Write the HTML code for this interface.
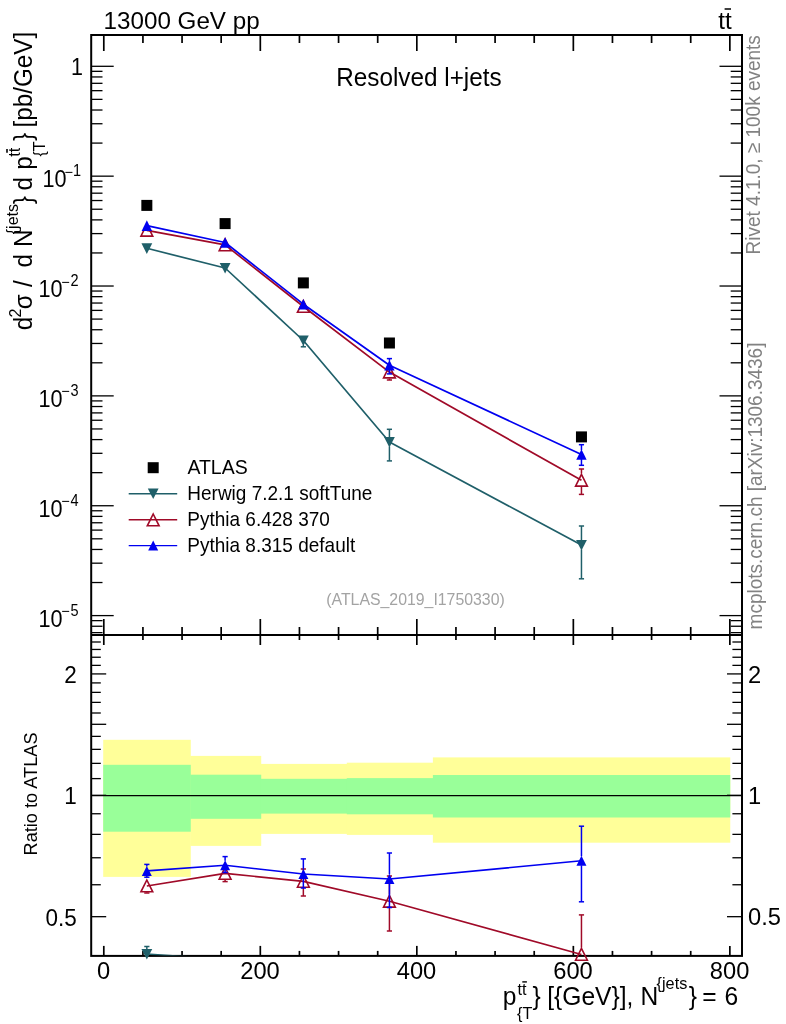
<!DOCTYPE html>
<html><head><meta charset="utf-8"><title>plot</title>
<style>
html,body{margin:0;padding:0;background:#fff;}
svg{display:block;will-change:transform;}
text{font-family:"Liberation Sans",sans-serif;}
</style></head>
<body>
<svg width="786" height="1024" viewBox="0 0 786 1024">
<rect x="0" y="0" width="786" height="1024" fill="#fff"/>
<rect x="103.20" y="739.8" width="87.58" height="137.10" fill="#ffff99"/>
<rect x="190.28" y="755.9" width="70.93" height="90.00" fill="#ffff99"/>
<rect x="260.71" y="763.9" width="86.58" height="70.00" fill="#ffff99"/>
<rect x="346.79" y="762.7" width="86.58" height="72.20" fill="#ffff99"/>
<rect x="432.88" y="757.4" width="297.37" height="85.30" fill="#ffff99"/>
<rect x="103.20" y="764.8" width="87.58" height="66.90" fill="#99ff99"/>
<rect x="190.28" y="774.7" width="70.93" height="44.10" fill="#99ff99"/>
<rect x="260.71" y="778.8" width="86.58" height="34.80" fill="#99ff99"/>
<rect x="346.79" y="778.1" width="86.58" height="36.20" fill="#99ff99"/>
<rect x="432.88" y="775.0" width="297.37" height="42.50" fill="#99ff99"/>
<line x1="91.20" y1="795.60" x2="742.00" y2="795.60" stroke="#000" stroke-width="1.4" />
<line x1="103.80" y1="35.00" x2="103.80" y2="51.00" stroke="#000" stroke-width="1.7" />
<line x1="103.80" y1="635.00" x2="103.80" y2="619.00" stroke="#000" stroke-width="1.7" />
<line x1="103.80" y1="635.00" x2="103.80" y2="645.00" stroke="#000" stroke-width="1.7" />
<line x1="103.80" y1="955.90" x2="103.80" y2="945.90" stroke="#000" stroke-width="1.7" />
<line x1="142.93" y1="35.00" x2="142.93" y2="43.00" stroke="#000" stroke-width="1.7" />
<line x1="142.93" y1="635.00" x2="142.93" y2="627.00" stroke="#000" stroke-width="1.7" />
<line x1="142.93" y1="635.00" x2="142.93" y2="640.00" stroke="#000" stroke-width="1.7" />
<line x1="142.93" y1="955.90" x2="142.93" y2="950.90" stroke="#000" stroke-width="1.7" />
<line x1="182.06" y1="35.00" x2="182.06" y2="43.00" stroke="#000" stroke-width="1.7" />
<line x1="182.06" y1="635.00" x2="182.06" y2="627.00" stroke="#000" stroke-width="1.7" />
<line x1="182.06" y1="635.00" x2="182.06" y2="640.00" stroke="#000" stroke-width="1.7" />
<line x1="182.06" y1="955.90" x2="182.06" y2="950.90" stroke="#000" stroke-width="1.7" />
<line x1="221.18" y1="35.00" x2="221.18" y2="43.00" stroke="#000" stroke-width="1.7" />
<line x1="221.18" y1="635.00" x2="221.18" y2="627.00" stroke="#000" stroke-width="1.7" />
<line x1="221.18" y1="635.00" x2="221.18" y2="640.00" stroke="#000" stroke-width="1.7" />
<line x1="221.18" y1="955.90" x2="221.18" y2="950.90" stroke="#000" stroke-width="1.7" />
<line x1="260.31" y1="35.00" x2="260.31" y2="51.00" stroke="#000" stroke-width="1.7" />
<line x1="260.31" y1="635.00" x2="260.31" y2="619.00" stroke="#000" stroke-width="1.7" />
<line x1="260.31" y1="635.00" x2="260.31" y2="645.00" stroke="#000" stroke-width="1.7" />
<line x1="260.31" y1="955.90" x2="260.31" y2="945.90" stroke="#000" stroke-width="1.7" />
<line x1="299.44" y1="35.00" x2="299.44" y2="43.00" stroke="#000" stroke-width="1.7" />
<line x1="299.44" y1="635.00" x2="299.44" y2="627.00" stroke="#000" stroke-width="1.7" />
<line x1="299.44" y1="635.00" x2="299.44" y2="640.00" stroke="#000" stroke-width="1.7" />
<line x1="299.44" y1="955.90" x2="299.44" y2="950.90" stroke="#000" stroke-width="1.7" />
<line x1="338.57" y1="35.00" x2="338.57" y2="43.00" stroke="#000" stroke-width="1.7" />
<line x1="338.57" y1="635.00" x2="338.57" y2="627.00" stroke="#000" stroke-width="1.7" />
<line x1="338.57" y1="635.00" x2="338.57" y2="640.00" stroke="#000" stroke-width="1.7" />
<line x1="338.57" y1="955.90" x2="338.57" y2="950.90" stroke="#000" stroke-width="1.7" />
<line x1="377.70" y1="35.00" x2="377.70" y2="43.00" stroke="#000" stroke-width="1.7" />
<line x1="377.70" y1="635.00" x2="377.70" y2="627.00" stroke="#000" stroke-width="1.7" />
<line x1="377.70" y1="635.00" x2="377.70" y2="640.00" stroke="#000" stroke-width="1.7" />
<line x1="377.70" y1="955.90" x2="377.70" y2="950.90" stroke="#000" stroke-width="1.7" />
<line x1="416.82" y1="35.00" x2="416.82" y2="51.00" stroke="#000" stroke-width="1.7" />
<line x1="416.82" y1="635.00" x2="416.82" y2="619.00" stroke="#000" stroke-width="1.7" />
<line x1="416.82" y1="635.00" x2="416.82" y2="645.00" stroke="#000" stroke-width="1.7" />
<line x1="416.82" y1="955.90" x2="416.82" y2="945.90" stroke="#000" stroke-width="1.7" />
<line x1="455.95" y1="35.00" x2="455.95" y2="43.00" stroke="#000" stroke-width="1.7" />
<line x1="455.95" y1="635.00" x2="455.95" y2="627.00" stroke="#000" stroke-width="1.7" />
<line x1="455.95" y1="635.00" x2="455.95" y2="640.00" stroke="#000" stroke-width="1.7" />
<line x1="455.95" y1="955.90" x2="455.95" y2="950.90" stroke="#000" stroke-width="1.7" />
<line x1="495.08" y1="35.00" x2="495.08" y2="43.00" stroke="#000" stroke-width="1.7" />
<line x1="495.08" y1="635.00" x2="495.08" y2="627.00" stroke="#000" stroke-width="1.7" />
<line x1="495.08" y1="635.00" x2="495.08" y2="640.00" stroke="#000" stroke-width="1.7" />
<line x1="495.08" y1="955.90" x2="495.08" y2="950.90" stroke="#000" stroke-width="1.7" />
<line x1="534.21" y1="35.00" x2="534.21" y2="43.00" stroke="#000" stroke-width="1.7" />
<line x1="534.21" y1="635.00" x2="534.21" y2="627.00" stroke="#000" stroke-width="1.7" />
<line x1="534.21" y1="635.00" x2="534.21" y2="640.00" stroke="#000" stroke-width="1.7" />
<line x1="534.21" y1="955.90" x2="534.21" y2="950.90" stroke="#000" stroke-width="1.7" />
<line x1="573.34" y1="35.00" x2="573.34" y2="51.00" stroke="#000" stroke-width="1.7" />
<line x1="573.34" y1="635.00" x2="573.34" y2="619.00" stroke="#000" stroke-width="1.7" />
<line x1="573.34" y1="635.00" x2="573.34" y2="645.00" stroke="#000" stroke-width="1.7" />
<line x1="573.34" y1="955.90" x2="573.34" y2="945.90" stroke="#000" stroke-width="1.7" />
<line x1="612.46" y1="35.00" x2="612.46" y2="43.00" stroke="#000" stroke-width="1.7" />
<line x1="612.46" y1="635.00" x2="612.46" y2="627.00" stroke="#000" stroke-width="1.7" />
<line x1="612.46" y1="635.00" x2="612.46" y2="640.00" stroke="#000" stroke-width="1.7" />
<line x1="612.46" y1="955.90" x2="612.46" y2="950.90" stroke="#000" stroke-width="1.7" />
<line x1="651.59" y1="35.00" x2="651.59" y2="43.00" stroke="#000" stroke-width="1.7" />
<line x1="651.59" y1="635.00" x2="651.59" y2="627.00" stroke="#000" stroke-width="1.7" />
<line x1="651.59" y1="635.00" x2="651.59" y2="640.00" stroke="#000" stroke-width="1.7" />
<line x1="651.59" y1="955.90" x2="651.59" y2="950.90" stroke="#000" stroke-width="1.7" />
<line x1="690.72" y1="35.00" x2="690.72" y2="43.00" stroke="#000" stroke-width="1.7" />
<line x1="690.72" y1="635.00" x2="690.72" y2="627.00" stroke="#000" stroke-width="1.7" />
<line x1="690.72" y1="635.00" x2="690.72" y2="640.00" stroke="#000" stroke-width="1.7" />
<line x1="690.72" y1="955.90" x2="690.72" y2="950.90" stroke="#000" stroke-width="1.7" />
<line x1="729.85" y1="35.00" x2="729.85" y2="51.00" stroke="#000" stroke-width="1.7" />
<line x1="729.85" y1="635.00" x2="729.85" y2="619.00" stroke="#000" stroke-width="1.7" />
<line x1="729.85" y1="635.00" x2="729.85" y2="645.00" stroke="#000" stroke-width="1.7" />
<line x1="729.85" y1="955.90" x2="729.85" y2="945.90" stroke="#000" stroke-width="1.7" />
<line x1="91.20" y1="66.30" x2="113.70" y2="66.30" stroke="#000" stroke-width="1.3" />
<line x1="742.00" y1="66.30" x2="719.50" y2="66.30" stroke="#000" stroke-width="1.3" />
<line x1="91.20" y1="176.16" x2="113.70" y2="176.16" stroke="#000" stroke-width="1.3" />
<line x1="742.00" y1="176.16" x2="719.50" y2="176.16" stroke="#000" stroke-width="1.3" />
<line x1="91.20" y1="143.09" x2="102.50" y2="143.09" stroke="#000" stroke-width="1.3" />
<line x1="742.00" y1="143.09" x2="730.70" y2="143.09" stroke="#000" stroke-width="1.3" />
<line x1="91.20" y1="123.74" x2="102.50" y2="123.74" stroke="#000" stroke-width="1.3" />
<line x1="742.00" y1="123.74" x2="730.70" y2="123.74" stroke="#000" stroke-width="1.3" />
<line x1="91.20" y1="110.02" x2="102.50" y2="110.02" stroke="#000" stroke-width="1.3" />
<line x1="742.00" y1="110.02" x2="730.70" y2="110.02" stroke="#000" stroke-width="1.3" />
<line x1="91.20" y1="99.37" x2="102.50" y2="99.37" stroke="#000" stroke-width="1.3" />
<line x1="742.00" y1="99.37" x2="730.70" y2="99.37" stroke="#000" stroke-width="1.3" />
<line x1="91.20" y1="90.67" x2="102.50" y2="90.67" stroke="#000" stroke-width="1.3" />
<line x1="742.00" y1="90.67" x2="730.70" y2="90.67" stroke="#000" stroke-width="1.3" />
<line x1="91.20" y1="83.32" x2="102.50" y2="83.32" stroke="#000" stroke-width="1.3" />
<line x1="742.00" y1="83.32" x2="730.70" y2="83.32" stroke="#000" stroke-width="1.3" />
<line x1="91.20" y1="76.95" x2="102.50" y2="76.95" stroke="#000" stroke-width="1.3" />
<line x1="742.00" y1="76.95" x2="730.70" y2="76.95" stroke="#000" stroke-width="1.3" />
<line x1="91.20" y1="71.33" x2="102.50" y2="71.33" stroke="#000" stroke-width="1.3" />
<line x1="742.00" y1="71.33" x2="730.70" y2="71.33" stroke="#000" stroke-width="1.3" />
<line x1="91.20" y1="286.02" x2="113.70" y2="286.02" stroke="#000" stroke-width="1.3" />
<line x1="742.00" y1="286.02" x2="719.50" y2="286.02" stroke="#000" stroke-width="1.3" />
<line x1="91.20" y1="252.95" x2="102.50" y2="252.95" stroke="#000" stroke-width="1.3" />
<line x1="742.00" y1="252.95" x2="730.70" y2="252.95" stroke="#000" stroke-width="1.3" />
<line x1="91.20" y1="233.60" x2="102.50" y2="233.60" stroke="#000" stroke-width="1.3" />
<line x1="742.00" y1="233.60" x2="730.70" y2="233.60" stroke="#000" stroke-width="1.3" />
<line x1="91.20" y1="219.88" x2="102.50" y2="219.88" stroke="#000" stroke-width="1.3" />
<line x1="742.00" y1="219.88" x2="730.70" y2="219.88" stroke="#000" stroke-width="1.3" />
<line x1="91.20" y1="209.23" x2="102.50" y2="209.23" stroke="#000" stroke-width="1.3" />
<line x1="742.00" y1="209.23" x2="730.70" y2="209.23" stroke="#000" stroke-width="1.3" />
<line x1="91.20" y1="200.53" x2="102.50" y2="200.53" stroke="#000" stroke-width="1.3" />
<line x1="742.00" y1="200.53" x2="730.70" y2="200.53" stroke="#000" stroke-width="1.3" />
<line x1="91.20" y1="193.18" x2="102.50" y2="193.18" stroke="#000" stroke-width="1.3" />
<line x1="742.00" y1="193.18" x2="730.70" y2="193.18" stroke="#000" stroke-width="1.3" />
<line x1="91.20" y1="186.81" x2="102.50" y2="186.81" stroke="#000" stroke-width="1.3" />
<line x1="742.00" y1="186.81" x2="730.70" y2="186.81" stroke="#000" stroke-width="1.3" />
<line x1="91.20" y1="181.19" x2="102.50" y2="181.19" stroke="#000" stroke-width="1.3" />
<line x1="742.00" y1="181.19" x2="730.70" y2="181.19" stroke="#000" stroke-width="1.3" />
<line x1="91.20" y1="395.88" x2="113.70" y2="395.88" stroke="#000" stroke-width="1.3" />
<line x1="742.00" y1="395.88" x2="719.50" y2="395.88" stroke="#000" stroke-width="1.3" />
<line x1="91.20" y1="362.81" x2="102.50" y2="362.81" stroke="#000" stroke-width="1.3" />
<line x1="742.00" y1="362.81" x2="730.70" y2="362.81" stroke="#000" stroke-width="1.3" />
<line x1="91.20" y1="343.46" x2="102.50" y2="343.46" stroke="#000" stroke-width="1.3" />
<line x1="742.00" y1="343.46" x2="730.70" y2="343.46" stroke="#000" stroke-width="1.3" />
<line x1="91.20" y1="329.74" x2="102.50" y2="329.74" stroke="#000" stroke-width="1.3" />
<line x1="742.00" y1="329.74" x2="730.70" y2="329.74" stroke="#000" stroke-width="1.3" />
<line x1="91.20" y1="319.09" x2="102.50" y2="319.09" stroke="#000" stroke-width="1.3" />
<line x1="742.00" y1="319.09" x2="730.70" y2="319.09" stroke="#000" stroke-width="1.3" />
<line x1="91.20" y1="310.39" x2="102.50" y2="310.39" stroke="#000" stroke-width="1.3" />
<line x1="742.00" y1="310.39" x2="730.70" y2="310.39" stroke="#000" stroke-width="1.3" />
<line x1="91.20" y1="303.04" x2="102.50" y2="303.04" stroke="#000" stroke-width="1.3" />
<line x1="742.00" y1="303.04" x2="730.70" y2="303.04" stroke="#000" stroke-width="1.3" />
<line x1="91.20" y1="296.67" x2="102.50" y2="296.67" stroke="#000" stroke-width="1.3" />
<line x1="742.00" y1="296.67" x2="730.70" y2="296.67" stroke="#000" stroke-width="1.3" />
<line x1="91.20" y1="291.05" x2="102.50" y2="291.05" stroke="#000" stroke-width="1.3" />
<line x1="742.00" y1="291.05" x2="730.70" y2="291.05" stroke="#000" stroke-width="1.3" />
<line x1="91.20" y1="505.74" x2="113.70" y2="505.74" stroke="#000" stroke-width="1.3" />
<line x1="742.00" y1="505.74" x2="719.50" y2="505.74" stroke="#000" stroke-width="1.3" />
<line x1="91.20" y1="472.67" x2="102.50" y2="472.67" stroke="#000" stroke-width="1.3" />
<line x1="742.00" y1="472.67" x2="730.70" y2="472.67" stroke="#000" stroke-width="1.3" />
<line x1="91.20" y1="453.32" x2="102.50" y2="453.32" stroke="#000" stroke-width="1.3" />
<line x1="742.00" y1="453.32" x2="730.70" y2="453.32" stroke="#000" stroke-width="1.3" />
<line x1="91.20" y1="439.60" x2="102.50" y2="439.60" stroke="#000" stroke-width="1.3" />
<line x1="742.00" y1="439.60" x2="730.70" y2="439.60" stroke="#000" stroke-width="1.3" />
<line x1="91.20" y1="428.95" x2="102.50" y2="428.95" stroke="#000" stroke-width="1.3" />
<line x1="742.00" y1="428.95" x2="730.70" y2="428.95" stroke="#000" stroke-width="1.3" />
<line x1="91.20" y1="420.25" x2="102.50" y2="420.25" stroke="#000" stroke-width="1.3" />
<line x1="742.00" y1="420.25" x2="730.70" y2="420.25" stroke="#000" stroke-width="1.3" />
<line x1="91.20" y1="412.90" x2="102.50" y2="412.90" stroke="#000" stroke-width="1.3" />
<line x1="742.00" y1="412.90" x2="730.70" y2="412.90" stroke="#000" stroke-width="1.3" />
<line x1="91.20" y1="406.53" x2="102.50" y2="406.53" stroke="#000" stroke-width="1.3" />
<line x1="742.00" y1="406.53" x2="730.70" y2="406.53" stroke="#000" stroke-width="1.3" />
<line x1="91.20" y1="400.91" x2="102.50" y2="400.91" stroke="#000" stroke-width="1.3" />
<line x1="742.00" y1="400.91" x2="730.70" y2="400.91" stroke="#000" stroke-width="1.3" />
<line x1="91.20" y1="615.60" x2="113.70" y2="615.60" stroke="#000" stroke-width="1.3" />
<line x1="742.00" y1="615.60" x2="719.50" y2="615.60" stroke="#000" stroke-width="1.3" />
<line x1="91.20" y1="582.53" x2="102.50" y2="582.53" stroke="#000" stroke-width="1.3" />
<line x1="742.00" y1="582.53" x2="730.70" y2="582.53" stroke="#000" stroke-width="1.3" />
<line x1="91.20" y1="563.18" x2="102.50" y2="563.18" stroke="#000" stroke-width="1.3" />
<line x1="742.00" y1="563.18" x2="730.70" y2="563.18" stroke="#000" stroke-width="1.3" />
<line x1="91.20" y1="549.46" x2="102.50" y2="549.46" stroke="#000" stroke-width="1.3" />
<line x1="742.00" y1="549.46" x2="730.70" y2="549.46" stroke="#000" stroke-width="1.3" />
<line x1="91.20" y1="538.81" x2="102.50" y2="538.81" stroke="#000" stroke-width="1.3" />
<line x1="742.00" y1="538.81" x2="730.70" y2="538.81" stroke="#000" stroke-width="1.3" />
<line x1="91.20" y1="530.11" x2="102.50" y2="530.11" stroke="#000" stroke-width="1.3" />
<line x1="742.00" y1="530.11" x2="730.70" y2="530.11" stroke="#000" stroke-width="1.3" />
<line x1="91.20" y1="522.76" x2="102.50" y2="522.76" stroke="#000" stroke-width="1.3" />
<line x1="742.00" y1="522.76" x2="730.70" y2="522.76" stroke="#000" stroke-width="1.3" />
<line x1="91.20" y1="516.39" x2="102.50" y2="516.39" stroke="#000" stroke-width="1.3" />
<line x1="742.00" y1="516.39" x2="730.70" y2="516.39" stroke="#000" stroke-width="1.3" />
<line x1="91.20" y1="510.77" x2="102.50" y2="510.77" stroke="#000" stroke-width="1.3" />
<line x1="742.00" y1="510.77" x2="730.70" y2="510.77" stroke="#000" stroke-width="1.3" />
<line x1="91.20" y1="632.62" x2="102.50" y2="632.62" stroke="#000" stroke-width="1.3" />
<line x1="742.00" y1="632.62" x2="730.70" y2="632.62" stroke="#000" stroke-width="1.3" />
<line x1="91.20" y1="626.25" x2="102.50" y2="626.25" stroke="#000" stroke-width="1.3" />
<line x1="742.00" y1="626.25" x2="730.70" y2="626.25" stroke="#000" stroke-width="1.3" />
<line x1="91.20" y1="620.63" x2="102.50" y2="620.63" stroke="#000" stroke-width="1.3" />
<line x1="742.00" y1="620.63" x2="730.70" y2="620.63" stroke="#000" stroke-width="1.3" />
<line x1="91.20" y1="916.68" x2="106.20" y2="916.68" stroke="#000" stroke-width="1.3" />
<line x1="742.00" y1="916.68" x2="727.00" y2="916.68" stroke="#000" stroke-width="1.3" />
<line x1="91.20" y1="884.75" x2="100.80" y2="884.75" stroke="#000" stroke-width="1.3" />
<line x1="742.00" y1="884.75" x2="732.40" y2="884.75" stroke="#000" stroke-width="1.3" />
<line x1="91.20" y1="857.76" x2="100.80" y2="857.76" stroke="#000" stroke-width="1.3" />
<line x1="742.00" y1="857.76" x2="732.40" y2="857.76" stroke="#000" stroke-width="1.3" />
<line x1="91.20" y1="834.37" x2="100.80" y2="834.37" stroke="#000" stroke-width="1.3" />
<line x1="742.00" y1="834.37" x2="732.40" y2="834.37" stroke="#000" stroke-width="1.3" />
<line x1="91.20" y1="813.75" x2="100.80" y2="813.75" stroke="#000" stroke-width="1.3" />
<line x1="742.00" y1="813.75" x2="732.40" y2="813.75" stroke="#000" stroke-width="1.3" />
<line x1="91.20" y1="795.30" x2="106.20" y2="795.30" stroke="#000" stroke-width="1.3" />
<line x1="742.00" y1="795.30" x2="727.00" y2="795.30" stroke="#000" stroke-width="1.3" />
<line x1="91.20" y1="778.61" x2="100.80" y2="778.61" stroke="#000" stroke-width="1.3" />
<line x1="742.00" y1="778.61" x2="732.40" y2="778.61" stroke="#000" stroke-width="1.3" />
<line x1="91.20" y1="763.37" x2="100.80" y2="763.37" stroke="#000" stroke-width="1.3" />
<line x1="742.00" y1="763.37" x2="732.40" y2="763.37" stroke="#000" stroke-width="1.3" />
<line x1="91.20" y1="749.36" x2="100.80" y2="749.36" stroke="#000" stroke-width="1.3" />
<line x1="742.00" y1="749.36" x2="732.40" y2="749.36" stroke="#000" stroke-width="1.3" />
<line x1="91.20" y1="736.38" x2="100.80" y2="736.38" stroke="#000" stroke-width="1.3" />
<line x1="742.00" y1="736.38" x2="732.40" y2="736.38" stroke="#000" stroke-width="1.3" />
<line x1="91.20" y1="724.30" x2="106.20" y2="724.30" stroke="#000" stroke-width="1.3" />
<line x1="742.00" y1="724.30" x2="727.00" y2="724.30" stroke="#000" stroke-width="1.3" />
<line x1="91.20" y1="713.00" x2="100.80" y2="713.00" stroke="#000" stroke-width="1.3" />
<line x1="742.00" y1="713.00" x2="732.40" y2="713.00" stroke="#000" stroke-width="1.3" />
<line x1="91.20" y1="702.38" x2="100.80" y2="702.38" stroke="#000" stroke-width="1.3" />
<line x1="742.00" y1="702.38" x2="732.40" y2="702.38" stroke="#000" stroke-width="1.3" />
<line x1="91.20" y1="692.37" x2="100.80" y2="692.37" stroke="#000" stroke-width="1.3" />
<line x1="742.00" y1="692.37" x2="732.40" y2="692.37" stroke="#000" stroke-width="1.3" />
<line x1="91.20" y1="682.91" x2="100.80" y2="682.91" stroke="#000" stroke-width="1.3" />
<line x1="742.00" y1="682.91" x2="732.40" y2="682.91" stroke="#000" stroke-width="1.3" />
<line x1="91.20" y1="673.92" x2="106.20" y2="673.92" stroke="#000" stroke-width="1.3" />
<line x1="742.00" y1="673.92" x2="727.00" y2="673.92" stroke="#000" stroke-width="1.3" />
<line x1="91.20" y1="665.38" x2="100.80" y2="665.38" stroke="#000" stroke-width="1.3" />
<line x1="742.00" y1="665.38" x2="732.40" y2="665.38" stroke="#000" stroke-width="1.3" />
<line x1="91.20" y1="657.24" x2="100.80" y2="657.24" stroke="#000" stroke-width="1.3" />
<line x1="742.00" y1="657.24" x2="732.40" y2="657.24" stroke="#000" stroke-width="1.3" />
<line x1="91.20" y1="649.45" x2="100.80" y2="649.45" stroke="#000" stroke-width="1.3" />
<line x1="742.00" y1="649.45" x2="732.40" y2="649.45" stroke="#000" stroke-width="1.3" />
<line x1="91.20" y1="642.00" x2="100.80" y2="642.00" stroke="#000" stroke-width="1.3" />
<line x1="742.00" y1="642.00" x2="732.40" y2="642.00" stroke="#000" stroke-width="1.3" />
<rect x="91.2" y="35.0" width="650.8" height="920.9" fill="none" stroke="#000" stroke-width="2"/>
<line x1="91.20" y1="635.00" x2="742.00" y2="635.00" stroke="#000" stroke-width="2" />
<clipPath id="cm"><rect x="91.2" y="35.0" width="650.8" height="600.0"/></clipPath>
<clipPath id="cr"><rect x="91.2" y="635.0" width="650.8" height="320.5"/></clipPath>
<polyline points="146.84,248.30 225.10,268.00 303.35,340.50 389.43,442.00 581.46,545.00" fill="none" stroke="#1f5f69" stroke-width="1.7" stroke-linejoin="round" />
<line x1="303.35" y1="345.00" x2="303.35" y2="346.80" stroke="#1f5f69" stroke-width="1.5" />
<line x1="300.75" y1="346.80" x2="305.95" y2="346.80" stroke="#1f5f69" stroke-width="1.5" />
<line x1="389.43" y1="429.30" x2="389.43" y2="437.50" stroke="#1f5f69" stroke-width="1.5" />
<line x1="386.83" y1="429.30" x2="392.03" y2="429.30" stroke="#1f5f69" stroke-width="1.5" />
<line x1="389.43" y1="446.50" x2="389.43" y2="460.90" stroke="#1f5f69" stroke-width="1.5" />
<line x1="386.83" y1="460.90" x2="392.03" y2="460.90" stroke="#1f5f69" stroke-width="1.5" />
<line x1="581.46" y1="526.00" x2="581.46" y2="540.50" stroke="#1f5f69" stroke-width="1.5" />
<line x1="578.86" y1="526.00" x2="584.06" y2="526.00" stroke="#1f5f69" stroke-width="1.5" />
<line x1="581.46" y1="549.50" x2="581.46" y2="578.80" stroke="#1f5f69" stroke-width="1.5" />
<line x1="578.86" y1="578.80" x2="584.06" y2="578.80" stroke="#1f5f69" stroke-width="1.5" />
<polygon points="146.84,253.90 152.24,243.20 141.44,243.20" fill="#1f5f69"/>
<polygon points="225.10,273.60 230.50,262.90 219.70,262.90" fill="#1f5f69"/>
<polygon points="303.35,346.10 308.75,335.40 297.95,335.40" fill="#1f5f69"/>
<polygon points="389.43,447.60 394.83,436.90 384.03,436.90" fill="#1f5f69"/>
<polygon points="581.46,550.60 586.86,539.90 576.06,539.90" fill="#1f5f69"/>
<polyline points="146.84,230.30 225.10,244.90 303.35,306.50 389.43,372.10 581.46,480.30" fill="none" stroke="#a00a28" stroke-width="1.7" stroke-linejoin="round" />
<line x1="389.43" y1="378.50" x2="389.43" y2="380.00" stroke="#a00a28" stroke-width="1.5" />
<line x1="386.83" y1="380.00" x2="392.03" y2="380.00" stroke="#a00a28" stroke-width="1.5" />
<line x1="581.46" y1="469.00" x2="581.46" y2="473.50" stroke="#a00a28" stroke-width="1.5" />
<line x1="578.86" y1="469.00" x2="584.06" y2="469.00" stroke="#a00a28" stroke-width="1.5" />
<line x1="581.46" y1="486.70" x2="581.46" y2="494.40" stroke="#a00a28" stroke-width="1.5" />
<line x1="578.86" y1="494.40" x2="584.06" y2="494.40" stroke="#a00a28" stroke-width="1.5" />
<polygon points="146.84,224.30 152.74,236.10 140.94,236.10" fill="none" stroke="#a00a28" stroke-width="1.6" stroke-linejoin="miter" stroke-miterlimit="10"/>
<polygon points="225.10,238.90 231.00,250.70 219.20,250.70" fill="none" stroke="#a00a28" stroke-width="1.6" stroke-linejoin="miter" stroke-miterlimit="10"/>
<polygon points="303.35,300.50 309.25,312.30 297.45,312.30" fill="none" stroke="#a00a28" stroke-width="1.6" stroke-linejoin="miter" stroke-miterlimit="10"/>
<polygon points="389.43,366.10 395.33,377.90 383.53,377.90" fill="none" stroke="#a00a28" stroke-width="1.6" stroke-linejoin="miter" stroke-miterlimit="10"/>
<polygon points="581.46,474.30 587.36,486.10 575.56,486.10" fill="none" stroke="#a00a28" stroke-width="1.6" stroke-linejoin="miter" stroke-miterlimit="10"/>
<polyline points="146.84,225.60 225.10,242.50 303.35,304.20 389.43,365.30 581.46,454.50" fill="none" stroke="#0000f0" stroke-width="1.7" stroke-linejoin="round" />
<line x1="389.43" y1="358.60" x2="389.43" y2="360.80" stroke="#0000f0" stroke-width="1.5" />
<line x1="386.83" y1="358.60" x2="392.03" y2="358.60" stroke="#0000f0" stroke-width="1.5" />
<line x1="389.43" y1="369.80" x2="389.43" y2="373.90" stroke="#0000f0" stroke-width="1.5" />
<line x1="386.83" y1="373.90" x2="392.03" y2="373.90" stroke="#0000f0" stroke-width="1.5" />
<line x1="581.46" y1="444.70" x2="581.46" y2="450.00" stroke="#0000f0" stroke-width="1.5" />
<line x1="578.86" y1="444.70" x2="584.06" y2="444.70" stroke="#0000f0" stroke-width="1.5" />
<line x1="581.46" y1="459.00" x2="581.46" y2="465.30" stroke="#0000f0" stroke-width="1.5" />
<line x1="578.86" y1="465.30" x2="584.06" y2="465.30" stroke="#0000f0" stroke-width="1.5" />
<polygon points="146.84,220.30 152.04,230.90 141.64,230.90" fill="#0000f0"/>
<polygon points="225.10,237.20 230.30,247.80 219.90,247.80" fill="#0000f0"/>
<polygon points="303.35,298.90 308.55,309.50 298.15,309.50" fill="#0000f0"/>
<polygon points="389.43,360.00 394.63,370.60 384.23,370.60" fill="#0000f0"/>
<polygon points="581.46,449.20 586.66,459.80 576.26,459.80" fill="#0000f0"/>
<rect x="141.34" y="199.90" width="11.0" height="11.0" fill="#000"/>
<rect x="219.60" y="218.10" width="11.0" height="11.0" fill="#000"/>
<rect x="297.85" y="277.40" width="11.0" height="11.0" fill="#000"/>
<rect x="383.93" y="337.50" width="11.0" height="11.0" fill="#000"/>
<rect x="575.96" y="431.40" width="11.0" height="11.0" fill="#000"/>
<polyline points="146.84,954.00 225.10,959.40" fill="none" stroke="#1f5f69" stroke-width="1.6" stroke-linejoin="round" clip-path="url(#cr)"/>
<line x1="146.84" y1="946.50" x2="146.84" y2="949.50" stroke="#1f5f69" stroke-width="1.5" />
<line x1="144.24" y1="946.50" x2="149.44" y2="946.50" stroke="#1f5f69" stroke-width="1.5" />
<polygon points="146.84,959.60 152.24,948.90 141.44,948.90" fill="#1f5f69"/>
<polyline points="146.84,886.00 225.10,873.40 303.35,881.40 389.43,901.30 581.46,954.40" fill="none" stroke="#a00a28" stroke-width="1.6" stroke-linejoin="round" clip-path="url(#cr)"/>
<line x1="146.84" y1="892.40" x2="146.84" y2="893.00" stroke="#a00a28" stroke-width="1.5" />
<line x1="144.24" y1="893.00" x2="149.44" y2="893.00" stroke="#a00a28" stroke-width="1.5" />
<line x1="225.10" y1="879.80" x2="225.10" y2="881.60" stroke="#a00a28" stroke-width="1.5" />
<line x1="222.50" y1="881.60" x2="227.70" y2="881.60" stroke="#a00a28" stroke-width="1.5" />
<line x1="303.35" y1="869.00" x2="303.35" y2="874.60" stroke="#a00a28" stroke-width="1.5" />
<line x1="300.75" y1="869.00" x2="305.95" y2="869.00" stroke="#a00a28" stroke-width="1.5" />
<line x1="303.35" y1="887.80" x2="303.35" y2="896.00" stroke="#a00a28" stroke-width="1.5" />
<line x1="300.75" y1="896.00" x2="305.95" y2="896.00" stroke="#a00a28" stroke-width="1.5" />
<line x1="389.43" y1="876.00" x2="389.43" y2="894.50" stroke="#a00a28" stroke-width="1.5" />
<line x1="386.83" y1="876.00" x2="392.03" y2="876.00" stroke="#a00a28" stroke-width="1.5" />
<line x1="389.43" y1="907.70" x2="389.43" y2="931.00" stroke="#a00a28" stroke-width="1.5" />
<line x1="386.83" y1="931.00" x2="392.03" y2="931.00" stroke="#a00a28" stroke-width="1.5" />
<line x1="581.46" y1="914.90" x2="581.46" y2="947.60" stroke="#a00a28" stroke-width="1.5" />
<line x1="578.86" y1="914.90" x2="584.06" y2="914.90" stroke="#a00a28" stroke-width="1.5" />
<polygon points="146.84,880.00 152.74,891.80 140.94,891.80" fill="none" stroke="#a00a28" stroke-width="1.6" stroke-linejoin="miter" stroke-miterlimit="10"/>
<polygon points="225.10,867.40 231.00,879.20 219.20,879.20" fill="none" stroke="#a00a28" stroke-width="1.6" stroke-linejoin="miter" stroke-miterlimit="10"/>
<polygon points="303.35,875.40 309.25,887.20 297.45,887.20" fill="none" stroke="#a00a28" stroke-width="1.6" stroke-linejoin="miter" stroke-miterlimit="10"/>
<polygon points="389.43,895.30 395.33,907.10 383.53,907.10" fill="none" stroke="#a00a28" stroke-width="1.6" stroke-linejoin="miter" stroke-miterlimit="10"/>
<polygon points="581.46,948.40 587.36,960.20 575.56,960.20" fill="none" stroke="#a00a28" stroke-width="1.6" stroke-linejoin="miter" stroke-miterlimit="10"/>
<polyline points="146.84,870.90 225.10,865.30 303.35,874.00 389.43,879.00 581.46,860.80" fill="none" stroke="#0000f0" stroke-width="1.6" stroke-linejoin="round" />
<line x1="146.84" y1="864.40" x2="146.84" y2="866.40" stroke="#0000f0" stroke-width="1.5" />
<line x1="144.24" y1="864.40" x2="149.44" y2="864.40" stroke="#0000f0" stroke-width="1.5" />
<line x1="146.84" y1="875.40" x2="146.84" y2="877.20" stroke="#0000f0" stroke-width="1.5" />
<line x1="144.24" y1="877.20" x2="149.44" y2="877.20" stroke="#0000f0" stroke-width="1.5" />
<line x1="225.10" y1="856.60" x2="225.10" y2="860.80" stroke="#0000f0" stroke-width="1.5" />
<line x1="222.50" y1="856.60" x2="227.70" y2="856.60" stroke="#0000f0" stroke-width="1.5" />
<line x1="225.10" y1="869.80" x2="225.10" y2="872.50" stroke="#0000f0" stroke-width="1.5" />
<line x1="222.50" y1="872.50" x2="227.70" y2="872.50" stroke="#0000f0" stroke-width="1.5" />
<line x1="303.35" y1="858.90" x2="303.35" y2="869.50" stroke="#0000f0" stroke-width="1.5" />
<line x1="300.75" y1="858.90" x2="305.95" y2="858.90" stroke="#0000f0" stroke-width="1.5" />
<line x1="303.35" y1="878.50" x2="303.35" y2="888.00" stroke="#0000f0" stroke-width="1.5" />
<line x1="300.75" y1="888.00" x2="305.95" y2="888.00" stroke="#0000f0" stroke-width="1.5" />
<line x1="389.43" y1="853.00" x2="389.43" y2="874.50" stroke="#0000f0" stroke-width="1.5" />
<line x1="386.83" y1="853.00" x2="392.03" y2="853.00" stroke="#0000f0" stroke-width="1.5" />
<line x1="389.43" y1="883.50" x2="389.43" y2="907.50" stroke="#0000f0" stroke-width="1.5" />
<line x1="386.83" y1="907.50" x2="392.03" y2="907.50" stroke="#0000f0" stroke-width="1.5" />
<line x1="581.46" y1="826.20" x2="581.46" y2="856.30" stroke="#0000f0" stroke-width="1.5" />
<line x1="578.86" y1="826.20" x2="584.06" y2="826.20" stroke="#0000f0" stroke-width="1.5" />
<line x1="581.46" y1="865.30" x2="581.46" y2="901.80" stroke="#0000f0" stroke-width="1.5" />
<line x1="578.86" y1="901.80" x2="584.06" y2="901.80" stroke="#0000f0" stroke-width="1.5" />
<polygon points="146.84,865.90 151.84,875.90 141.84,875.90" fill="#0000f0"/>
<polygon points="225.10,860.30 230.10,870.30 220.10,870.30" fill="#0000f0"/>
<polygon points="303.35,869.00 308.35,879.00 298.35,879.00" fill="#0000f0"/>
<polygon points="389.43,874.00 394.43,884.00 384.43,884.00" fill="#0000f0"/>
<polygon points="581.46,855.80 586.46,865.80 576.46,865.80" fill="#0000f0"/>
<rect x="147.70" y="462.20" width="11.0" height="11.0" fill="#000"/>
<line x1="128.70" y1="493.80" x2="177.20" y2="493.80" stroke="#1f5f69" stroke-width="1.4" />
<polygon points="153.20,499.10 158.60,488.40 147.80,488.40" fill="#1f5f69"/>
<line x1="128.70" y1="519.70" x2="177.20" y2="519.70" stroke="#a00a28" stroke-width="1.4" />
<polygon points="153.20,514.00 159.10,525.80 147.30,525.80" fill="none" stroke="#a00a28" stroke-width="1.6" stroke-linejoin="miter" stroke-miterlimit="10"/>
<line x1="128.70" y1="545.60" x2="177.20" y2="545.60" stroke="#0000f0" stroke-width="1.4" />
<polygon points="153.20,540.60 158.20,550.60 148.20,550.60" fill="#0000f0"/>
<text transform="translate(187.40,473.70) scale(0.975,1)" font-size="20.0" fill="#000" text-anchor="start">ATLAS</text>
<text transform="translate(187.30,499.70) scale(0.95,1)" font-size="20.0" fill="#000" text-anchor="start">Herwig 7.2.1 softTune</text>
<text transform="translate(187.30,525.90) scale(0.95,1)" font-size="20.0" fill="#000" text-anchor="start">Pythia 6.428 370</text>
<text transform="translate(187.30,551.90) scale(0.95,1)" font-size="20.0" fill="#000" text-anchor="start">Pythia 8.315 default</text>
<text transform="translate(103.60,29.10) scale(0.98,1)" font-size="24.7" fill="#000" text-anchor="start">13000 GeV pp</text>
<text transform="translate(718.20,29.30) scale(0.98,1)" font-size="24.7" fill="#000" text-anchor="start">tt</text>
<line x1="724.60" y1="9.00" x2="731.00" y2="9.00" stroke="#000" stroke-width="1.5" />
<text transform="translate(336.20,85.70) scale(0.95,1)" font-size="25.6" fill="#000" text-anchor="start">Resolved l+jets</text>
<text transform="translate(415.50,604.50) scale(0.95,1)" font-size="16.7" fill="#a3a3a3" text-anchor="middle">(ATLAS_2019_I1750330)</text>
<text x="103.50" y="978.60" font-size="23.7" fill="#000" text-anchor="middle" >0</text>
<text x="260.01" y="978.60" font-size="23.7" fill="#000" text-anchor="middle" >200</text>
<text x="416.52" y="978.60" font-size="23.7" fill="#000" text-anchor="middle" >400</text>
<text x="573.04" y="978.60" font-size="23.7" fill="#000" text-anchor="middle" >600</text>
<text x="729.55" y="978.60" font-size="23.7" fill="#000" text-anchor="middle" >800</text>
<text transform="translate(71.00,75.20) scale(0.91,1)" font-size="23.6" fill="#000" text-anchor="start">1</text>
<text transform="translate(42.40,187.36) scale(0.91,1)" font-size="23.8" fill="#000" text-anchor="start">10</text>
<text x="64.40" y="176.76" font-size="14.5" fill="#000" text-anchor="start" >−</text>
<text transform="translate(73.00,176.36) scale(0.88,1)" font-size="16.5" fill="#000" text-anchor="start">1</text>
<text transform="translate(38.40,297.22) scale(0.91,1)" font-size="23.8" fill="#000" text-anchor="start">10</text>
<text x="61.20" y="286.62" font-size="14.5" fill="#000" text-anchor="start" >−</text>
<text transform="translate(70.60,286.22) scale(0.88,1)" font-size="16.5" fill="#000" text-anchor="start">2</text>
<text transform="translate(38.40,407.08) scale(0.91,1)" font-size="23.8" fill="#000" text-anchor="start">10</text>
<text x="61.20" y="396.48" font-size="14.5" fill="#000" text-anchor="start" >−</text>
<text transform="translate(70.60,396.08) scale(0.88,1)" font-size="16.5" fill="#000" text-anchor="start">3</text>
<text transform="translate(38.40,516.94) scale(0.91,1)" font-size="23.8" fill="#000" text-anchor="start">10</text>
<text x="61.20" y="506.34" font-size="14.5" fill="#000" text-anchor="start" >−</text>
<text transform="translate(70.60,505.94) scale(0.88,1)" font-size="16.5" fill="#000" text-anchor="start">4</text>
<text transform="translate(38.40,626.80) scale(0.91,1)" font-size="23.8" fill="#000" text-anchor="start">10</text>
<text x="61.20" y="616.20" font-size="14.5" fill="#000" text-anchor="start" >−</text>
<text transform="translate(70.60,615.80) scale(0.88,1)" font-size="16.5" fill="#000" text-anchor="start">5</text>
<text transform="translate(76.70,683.02) scale(0.95,1)" font-size="23.7" fill="#000" text-anchor="end">2</text>
<text transform="translate(748.00,682.72) scale(1.0,1)" font-size="23.7" fill="#000" text-anchor="start">2</text>
<text transform="translate(76.70,804.40) scale(0.95,1)" font-size="23.7" fill="#000" text-anchor="end">1</text>
<text transform="translate(748.00,804.10) scale(1.0,1)" font-size="23.7" fill="#000" text-anchor="start">1</text>
<text transform="translate(76.70,925.78) scale(0.95,1)" font-size="23.7" fill="#000" text-anchor="end">0.5</text>
<text transform="translate(748.00,925.48) scale(1.0,1)" font-size="23.7" fill="#000" text-anchor="start">0.5</text>
<g transform="translate(760.2,254.4) rotate(-90)">
<text transform="translate(0.00,0.00) scale(0.935,1)" font-size="20.3" fill="#828282" text-anchor="start">Rivet 4.1.0, ≥ 100k events</text>
</g>
<g transform="translate(762.0,629.4) rotate(-90)">
<text transform="translate(0.00,0.00) scale(0.935,1)" font-size="20.3" fill="#828282" text-anchor="start">mcplots.cern.ch [arXiv:1306.3436]</text>
</g>
<g transform="translate(36.7,855.5) rotate(-90)">
<text transform="translate(0.00,0.00) scale(0.995,1)" font-size="18.3" fill="#000" text-anchor="start">Ratio to ATLAS</text>
</g>
<g transform="translate(32.4,330.3) rotate(-90)">
<text transform="translate(0.00,0.00) scale(0.94,1)" font-size="25.8" fill="#000" text-anchor="start">d</text>
<text transform="translate(12.80,-11.90) scale(0.94,1)" font-size="17.1" fill="#000" text-anchor="start">2</text>
<text transform="translate(21.00,0.00) scale(0.94,1)" font-size="25.8" fill="#000" text-anchor="start">σ</text>
<text transform="translate(43.20,0.00) scale(0.94,1)" font-size="25.8" fill="#000" text-anchor="start">/</text>
<text transform="translate(62.70,0.00) scale(0.94,1)" font-size="25.8" fill="#000" text-anchor="start">d</text>
<text transform="translate(83.40,0.00) scale(0.94,1)" font-size="25.8" fill="#000" text-anchor="start">N</text>
<text transform="translate(96.00,-14.90) scale(0.94,1)" font-size="17.1" fill="#000" text-anchor="start">{jets</text>
<text transform="translate(126.00,0.00) scale(0.94,1)" font-size="25.8" fill="#000" text-anchor="start">}</text>
<text transform="translate(139.80,0.00) scale(0.94,1)" font-size="25.8" fill="#000" text-anchor="start">d</text>
<text transform="translate(160.60,0.00) scale(0.94,1)" font-size="25.8" fill="#000" text-anchor="start">p</text>
<text transform="translate(173.60,-12.00) scale(0.94,1)" font-size="17.1" fill="#000" text-anchor="start">tt</text>
<line x1="177.60" y1="-25.40" x2="181.20" y2="-25.40" stroke="#000" stroke-width="1.6" />
<text transform="translate(173.80,12.70) scale(0.94,1)" font-size="17.1" fill="#000" text-anchor="start">{T</text>
<text transform="translate(189.20,0.00) scale(0.94,1)" font-size="25.8" fill="#000" text-anchor="start">}</text>
<text transform="translate(202.80,0.00) scale(0.94,1)" font-size="25.8" fill="#000" text-anchor="start">[pb/GeV]</text>
</g>
<text transform="translate(502.80,1004.70) scale(0.95,1)" font-size="25.9" fill="#000" text-anchor="start">p</text>
<text transform="translate(517.60,994.70) scale(0.95,1)" font-size="17.1" fill="#000" text-anchor="start">tt</text>
<line x1="522.30" y1="981.90" x2="526.90" y2="981.90" stroke="#000" stroke-width="1.4" />
<text transform="translate(517.00,1018.60) scale(0.95,1)" font-size="17.1" fill="#000" text-anchor="start">{T</text>
<text transform="translate(532.40,1004.70) scale(0.95,1)" font-size="25.9" fill="#000" text-anchor="start">}</text>
<text transform="translate(547.20,1004.70) scale(0.95,1)" font-size="25.9" fill="#000" text-anchor="start">[{GeV}],</text>
<text transform="translate(640.40,1004.70) scale(0.95,1)" font-size="25.9" fill="#000" text-anchor="start">N</text>
<text transform="translate(656.60,989.20) scale(0.95,1)" font-size="17.1" fill="#000" text-anchor="start">{jets</text>
<text transform="translate(688.80,1004.70) scale(0.95,1)" font-size="25.9" fill="#000" text-anchor="start">}</text>
<text transform="translate(702.20,1004.70) scale(0.95,1)" font-size="25.9" fill="#000" text-anchor="start">=</text>
<text transform="translate(724.40,1004.70) scale(0.95,1)" font-size="25.9" fill="#000" text-anchor="start">6</text>
</svg>
</body></html>
